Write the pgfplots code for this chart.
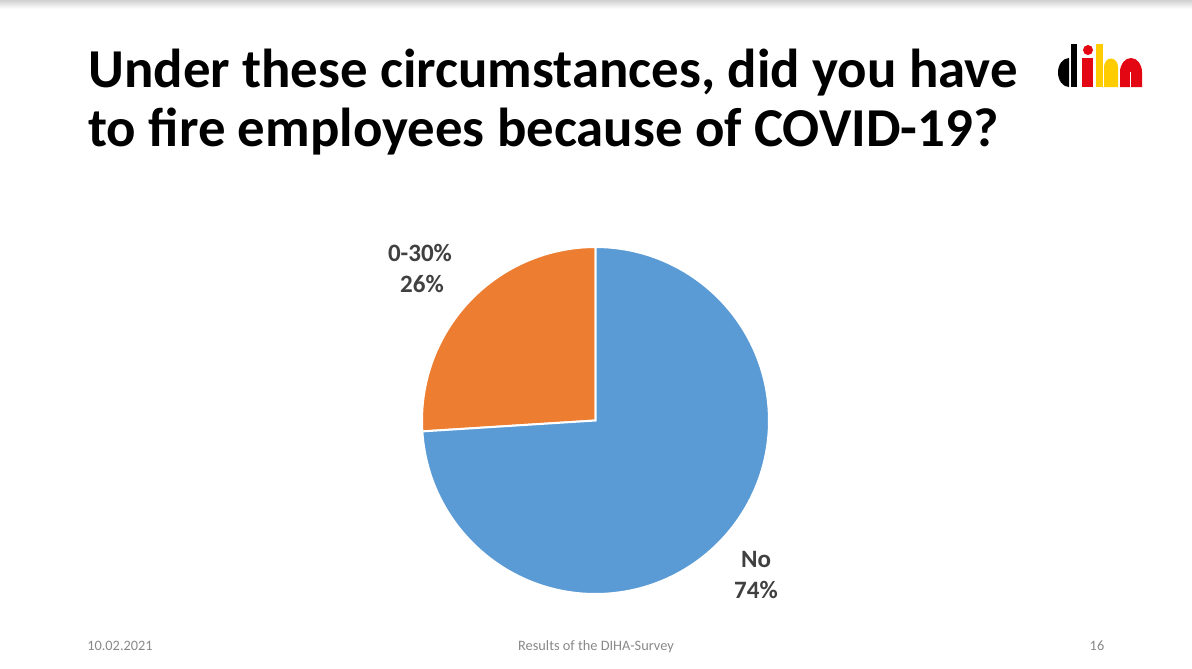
\documentclass[border=0pt]{standalone}
\usepackage{pgfplots}
\pgfplotsset{compat=1.18}
\usepackage{pgfplotstable}
\usepackage{fontspec}
\setmainfont{Carlito}
\definecolor{pieblue}{HTML}{5B9BD5}
\definecolor{pieorange}{HTML}{ED7D31}
\definecolor{lbl}{HTML}{404040}
\definecolor{foot}{HTML}{898989}
\definecolor{dihared}{HTML}{E30613}
\definecolor{dihayellow}{HTML}{FFCC00}

\pgfplotstableread{
value
26
74
}\piedata

\begin{document}
\begin{tikzpicture}
\pgfplotstablegetelem{0}{value}\of\piedata \edef\va{\pgfplotsretval}
\pgfplotstablegetelem{1}{value}\of\piedata \edef\vb{\pgfplotsretval}
\pgfmathsetmacro\angA{90+3.6*\va}
\pgfmathsetmacro\angB{\angA+3.6*\vb}
\def\R{104.1pt}
\begin{axis}[x=0.6pt,y=0.6pt,xmin=0,xmax=1192,ymin=0,ymax=668,
  y dir=reverse, hide axis, scale only axis, clip=false]
% canvas
\fill[white] (axis cs:0,0) rectangle (axis cs:1192,668);
\shade[top color=black!18, bottom color=white] (axis cs:0,0) rectangle (axis cs:1192,9);
% pie
\filldraw[fill=pieorange, draw=white, line width=1.2pt] (axis cs:595.5,420.5) -- ++(90:\R) arc[start angle=90, end angle=\angA, radius=\R] -- cycle;
\filldraw[fill=pieblue, draw=white, line width=1.2pt] (axis cs:595.5,420.5) -- ++(\angA:\R) arc[start angle=\angA, end angle=\angB, radius=\R] -- cycle;
% labels
\node[anchor=base, text=lbl, font=\bfseries\fontsize{15}{18}\selectfont] at (axis cs:420,261) {0-30\%};
\node[anchor=base, text=lbl, font=\bfseries\fontsize{15}{18}\selectfont] at (axis cs:422,292) {26\%};
\node[anchor=base, text=lbl, font=\bfseries\fontsize{15}{18}\selectfont] at (axis cs:756,567) {No};
\node[anchor=base, text=lbl, font=\bfseries\fontsize{15}{18}\selectfont] at (axis cs:756,598) {74\%};
% title
\node[anchor=base west, inner sep=0pt, font=\bfseries\fontsize{32.9}{36}\selectfont] at (axis cs:88,87) {Under these circumstances, did you have};
\node[anchor=base west, inner sep=0pt, font=\bfseries\fontsize{32.9}{36}\selectfont] at (axis cs:88,146) {to fire employees because of COVID-19?};
% footer
\node[anchor=base, text=foot, font=\fontsize{8.6}{10}\selectfont] at (axis cs:120,650) {10.02.2021};
\node[anchor=base, text=foot, font=\fontsize{8.6}{10}\selectfont] at (axis cs:596,650) {Results of the DIHA-Survey};
\node[anchor=base, text=foot, font=\fontsize{8.6}{10}\selectfont] at (axis cs:1097,650) {16};
% logo
\fill[black] (axis cs:1069,58) arc[start angle=90, end angle=270, x radius=6.6pt, y radius=8.7pt] -- cycle;
\fill[black] (axis cs:1070.5,44) rectangle (axis cs:1077,87);
\fill[dihared] (axis cs:1088,50) circle[radius=3pt];
\fill[dihared] (axis cs:1082,58) rectangle (axis cs:1093,87);
\fill[dihayellow] (axis cs:1096,44) rectangle (axis cs:1103,87);
\fill[dihayellow] (axis cs:1104,87) -- (axis cs:1104,67) arc[start angle=180, end angle=0, x radius=4.2pt, y radius=5.1pt] -- (axis cs:1118,87) -- cycle;
\fill[dihared] (axis cs:1120,87) -- (axis cs:1120,72) arc[start angle=180, end angle=0, x radius=6.6pt, y radius=8.4pt] -- (axis cs:1142,87) -- cycle;
\fill[white] (axis cs:1129.5,72) rectangle (axis cs:1131,87);
\end{axis}
\end{tikzpicture}
\end{document}
